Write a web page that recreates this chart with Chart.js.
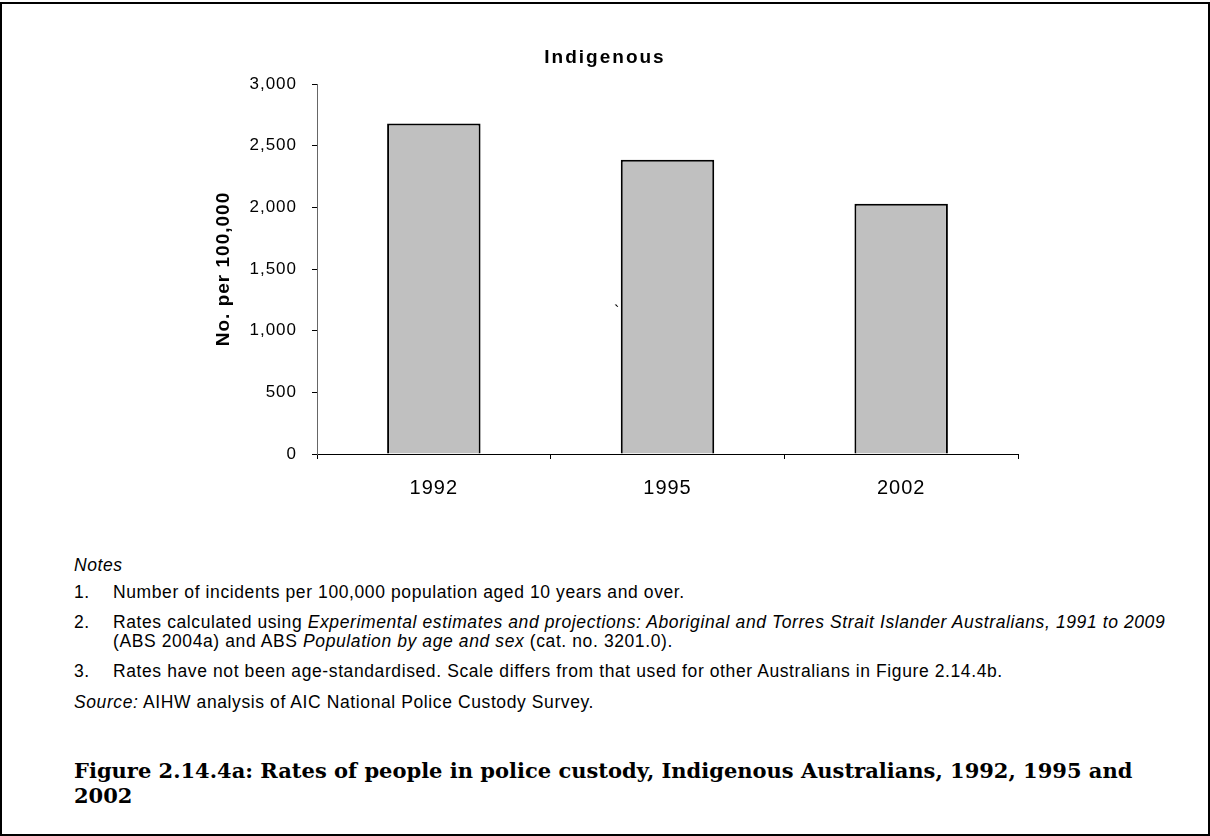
<!DOCTYPE html>
<html>
<head>
<meta charset="utf-8">
<script src="https://cdn.jsdelivr.net/npm/chart.js@4.4.1/dist/chart.umd.min.js"></script>
<style>
  html, body { margin: 0; padding: 0; background: #fff; }
  body { width: 1210px; height: 836px; position: relative; overflow: hidden; font-family: "Liberation Sans", Arial, sans-serif; color: #000; }
  #frame { position: absolute; left: 0; top: 2px; width: 1210px; height: 834px; border: 2px solid #000; box-sizing: border-box; }
  #chart { position: absolute; left: 0; top: 0; }
  .t { position: absolute; white-space: nowrap; font-size: 17.5px; line-height: 20px; letter-spacing: 0.6px; }
  .num { left: 74px; }
  .txt { left: 113px; }
  #ctitle { position: absolute; left: 0; width: 1210px; text-align: center; top: 46px; font-weight: bold; font-size: 19px; line-height: 22px; letter-spacing: 2px; }
  .cap { position: absolute; left: 74px; font-family: "DejaVu Serif", "Liberation Serif", serif; font-weight: bold; font-size: 21px; line-height: 25px; white-space: nowrap; }
</style>
</head>
<body>
<div id="frame"></div>
<canvas id="chart" width="1210" height="520"></canvas>
<div id="ctitle">Indigenous</div>
<div class="t" style="left:614px; top:302px; font-size:16px;">`</div>

<div class="t num" style="top:555px;"><i>Notes</i></div>
<div class="t num" style="top:582px;">1.</div>
<div class="t txt" style="top:582px;">Number of incidents per 100,000 population aged 10 years and over.</div>
<div class="t num" style="top:612px;">2.</div>
<div class="t txt" style="top:612px;">Rates calculated using <i>Experimental estimates and projections: Aboriginal and Torres Strait Islander Australians, 1991 to 2009</i></div>
<div class="t txt" style="top:631px;">(ABS 2004a) and ABS <i>Population by age and sex</i> (cat. no. 3201.0).</div>
<div class="t num" style="top:661px;">3.</div>
<div class="t txt" style="top:661px;">Rates have not been age-standardised. Scale differs from that used for other Australians in Figure 2.14.4b.</div>
<div class="t num" style="top:692px;"><i>Source:</i> AIHW analysis of AIC National Police Custody Survey.</div>

<div class="cap" style="top:758px;">Figure 2.14.4a: Rates of people in police custody, Indigenous Australians, 1992, 1995 and</div>
<div class="cap" style="top:783px;">2002</div>

<script>
const categories = ['1992', '1995', '2002'];
const rates = [2680, 2385, 2029];
const yMin = 0;
const yMax = 3000;
const yStep = 500;
const yAxisTitle = 'No. per 100,000';

const spacingPlugin = {
  id: 'spacing',
  beforeLayout(chart) { chart.ctx.letterSpacing = '1px'; },
  beforeDraw(chart) { chart.ctx.letterSpacing = '1px'; }
};

const ctx = document.getElementById('chart').getContext('2d');
new Chart(ctx, {
  type: 'bar',
  data: {
    labels: categories,
    datasets: [{
      label: 'Indigenous',
      data: rates,
      backgroundColor: '#c0c0c0',
      borderColor: '#000000',
      borderWidth: 2,
      borderSkipped: 'bottom',
      barPercentage: 0.4,
      categoryPercentage: 1.0
    }]
  },
  plugins: [spacingPlugin],
  options: {
    responsive: false,
    animation: false,
    events: [],
    layout: { padding: { left: 212, right: 192, top: 84, bottom: 0 } },
    plugins: {
      legend: { display: false },
      title: { display: false },
      tooltip: { enabled: false }
    },
    scales: {
      x: {
        offset: true,
        grid: { display: true, offset: true, drawOnChartArea: false, drawTicks: true, tickLength: 5, color: '#000', lineWidth: 1 },
        border: { display: true, color: '#000', width: 1 },
        ticks: { color: '#000', padding: 17, font: { family: 'Liberation Sans, Arial', size: 20 }, maxRotation: 0 },
        afterFit: (s) => { s.height = 66; }
      },
      y: {
        min: yMin,
        max: yMax,
        ticks: {
          stepSize: yStep,
          color: '#000',
          padding: 15,
          font: { family: 'Liberation Sans, Arial', size: 17 },
          callback: (v) => Number(v).toLocaleString('en-US')
        },
        grid: { display: true, drawOnChartArea: false, drawTicks: true, tickLength: 5, color: '#000', lineWidth: 1 },
        border: { display: true, color: '#666', width: 1 },
        title: {
          display: true,
          text: yAxisTitle,
          color: '#000',
          padding: 0,
          font: { family: 'Liberation Sans, Arial', size: 19, weight: 'bold' }
        },
        afterFit: (s) => { s.width = 105; }
      }
    }
  }
});
</script>
</body>
</html>
